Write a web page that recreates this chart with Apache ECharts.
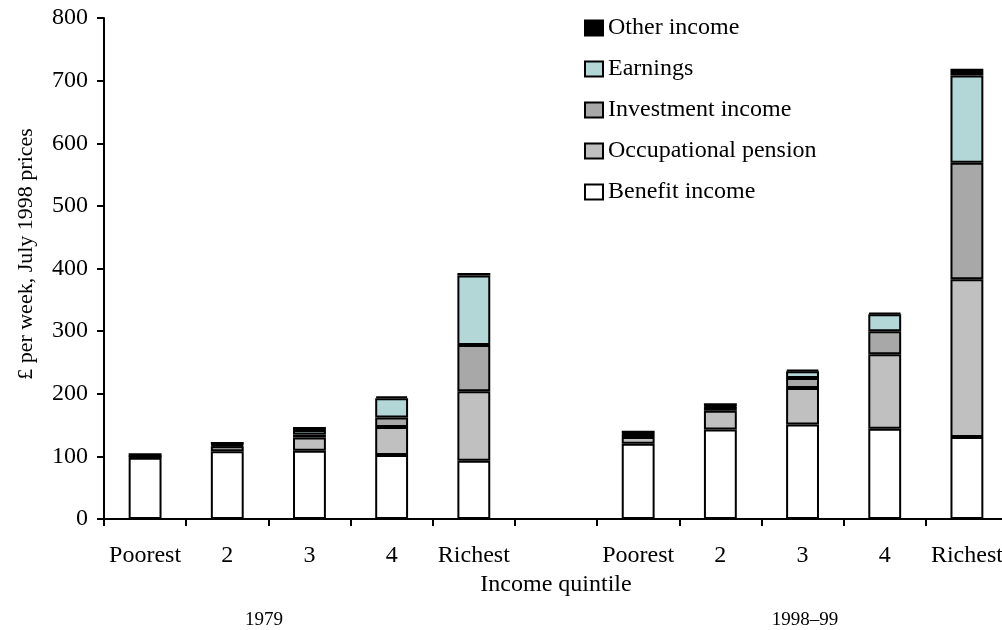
<!DOCTYPE html>
<html>
<head>
<meta charset="utf-8">
<script src="https://cdn.jsdelivr.net/npm/echarts@6/dist/echarts.min.js"></script>
<style>
  html, body { margin: 0; padding: 0; background: #fff; }
  #chart { width: 1002px; height: 630px; }
</style>
</head>
<body>
<div id="chart"></div>
<script>
// Income quintiles for the two survey years, with an empty spacer slot between them
const categories = ['Poorest', '2', '3', '4', 'Richest', '', 'Poorest', '2', '3', '4', 'Richest'];

// £ per week, July 1998 prices (spacer slot is null)
const benefitIncome       = [98, 108, 109, 102, 93, null, 120, 143, 151, 144, 131];
const occupationalPension = [1, 8, 21, 45, 111, null, 11, 30, 58, 119, 252];
const investmentIncome    = [1, 2, 5, 15, 74, null, 5, 6, 16, 37, 186];
const earnings            = [0, 1, 7, 31, 111, null, 1, 1, 11, 27, 139];
const otherIncome         = [5, 4, 5, 3, 4, null, 4, 5, 2, 2, 11];

const yTicks = { min: 0, max: 800, interval: 100 };
const periodLabels = ['1979', '1998–99'];
const yTitle = '£ per week, July 1998 prices';

const FONT = '"Liberation Serif", "Times New Roman", serif';

const chart = echarts.init(document.getElementById('chart'), null, { renderer: 'canvas' });

function barSeries(name, data, color) {
  return {
    name: name,
    type: 'bar',
    stack: 'income',
    data: data,
    barWidth: '40%',
    itemStyle: { color: color, borderColor: '#000', borderWidth: 2 },
    emphasis: { disabled: true }
  };
}

chart.setOption({
  animation: false,
  backgroundColor: '#fff',
  textStyle: { fontFamily: FONT, color: '#000' },
  // the last quintile runs slightly past the right edge of the page
  grid: { left: 104, width: 904, top: 18, bottom: 111, containLabel: false, outerBoundsMode: 'none' },
  legend: {
    orient: 'vertical',
    left: 584,
    top: 16,
    padding: 0,
    itemWidth: 18,
    itemHeight: 15,
    itemGap: 17,
    icon: 'rect',
    textStyle: { fontFamily: FONT, fontSize: 24, color: '#000' },
    itemStyle: { borderColor: '#000', borderWidth: 2 },
    data: ['Other income', 'Earnings', 'Investment income', 'Occupational pension', 'Benefit income']
  },
  xAxis: {
    type: 'category',
    data: categories,
    boundaryGap: true,
    axisLine: { lineStyle: { color: '#000', width: 2 } },
    axisTick: { show: true, alignWithLabel: false, length: 7, lineStyle: { color: '#000', width: 2 } },
    axisLabel: { interval: 0, margin: 25, fontFamily: FONT, fontSize: 24, color: '#000' },
    name: 'Income quintile',
    nameLocation: 'middle',
    nameGap: 46,
    nameTextStyle: { fontFamily: FONT, fontSize: 24, color: '#000' }
  },
  yAxis: {
    type: 'value',
    min: yTicks.min,
    max: yTicks.max,
    interval: yTicks.interval,
    splitLine: { show: false },
    axisLine: { show: true, lineStyle: { color: '#000', width: 2 } },
    axisTick: { show: true, length: 7, lineStyle: { color: '#000', width: 2 } },
    axisLabel: { margin: 16, fontFamily: FONT, fontSize: 24, color: '#000' }
  },
  graphic: [
    {
      type: 'text', x: 26, y: 254, rotation: Math.PI / 2,
      style: { text: yTitle, font: '22px ' + FONT, fill: '#000', align: 'center', verticalAlign: 'middle' }
    },
    {
      type: 'text', x: 264, y: 620,
      style: { text: periodLabels[0], font: '19px ' + FONT, fill: '#000', align: 'center', verticalAlign: 'middle' }
    },
    {
      type: 'text', x: 805, y: 620,
      style: { text: periodLabels[1], font: '19px ' + FONT, fill: '#000', align: 'center', verticalAlign: 'middle' }
    }
  ],
  series: [
    barSeries('Benefit income', benefitIncome, '#ffffff'),
    barSeries('Occupational pension', occupationalPension, '#c0c0c0'),
    barSeries('Investment income', investmentIncome, '#a8a8a8'),
    barSeries('Earnings', earnings, '#b3d6d6'),
    barSeries('Other income', otherIncome, '#000000')
  ]
});
</script>
</body>
</html>
